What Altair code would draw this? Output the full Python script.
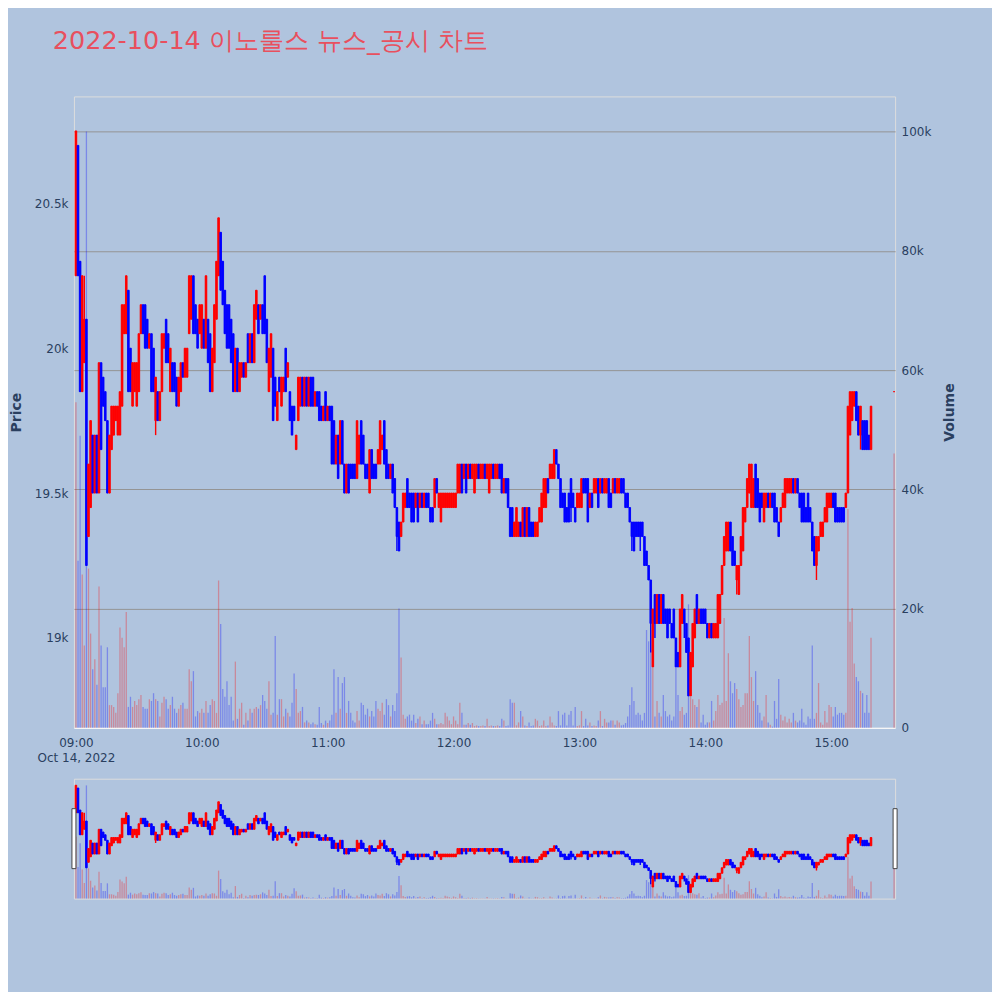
import altair as alt
import pandas as pd

# ---------------- data (1-minute candles) ----------------
session_minutes = list(range(380)) + [390]   # minutes after 09:00 (15:20-15:29 auction gap)

opens = [
    20250,20700,20300,19850,19950,20100,19350,19450,19700,19500,
    19700,19500,19950,19900,19850,19750,19500,19650,19700,19750,
    19700,19700,19800,20050,20050,20200,20000,19800,19850,19800,
    19850,20050,20150,20150,20100,20000,20050,20000,19750,19850,
    19750,19850,20000,20100,20050,19850,19950,19950,19900,19800,
    19850,19950,19900,19900,20050,20100,20250,20150,20100,20050,
    20000,20100,20000,20100,20050,19850,19950,20100,20250,20400,
    20300,20200,20150,20150,20100,20050,19850,20000,19850,19900,
    19950,19900,20050,19950,20050,19950,20100,20150,20100,20150,
    20250,20100,19850,19900,20000,19900,19750,19900,19800,19850,
    20000,19900,19850,19800,19800,19650,19750,19800,19900,19800,
    19900,19800,19900,19900,19800,19850,19850,19800,19750,19850,
    19750,19800,19800,19750,19600,19700,19600,19750,19600,19500,
    19600,19600,19600,19600,19550,19600,19750,19700,19600,19600,
    19500,19650,19600,19600,19600,19600,19650,19750,19650,19600,
    19550,19600,19550,19450,19400,19350,19400,19450,19550,19500,
    19500,19500,19450,19500,19450,19500,19450,19500,19500,19450,
    19450,19450,19550,19450,19400,19450,19450,19450,19450,19450,
    19450,19450,19500,19500,19600,19550,19600,19550,19600,19550,
    19500,19550,19600,19550,19550,19600,19550,19500,19550,19600,
    19550,19550,19600,19600,19500,19550,19550,19450,19450,19350,
    19350,19350,19400,19350,19450,19350,19450,19400,19400,19350,
    19350,19400,19400,19450,19450,19550,19550,19550,19550,19650,
    19600,19550,19500,19500,19450,19500,19550,19500,19450,19450,
    19450,19450,19550,19550,19550,19450,19500,19500,19500,19550,
    19500,19550,19500,19500,19550,19500,19500,19550,19500,19500,
    19550,19550,19500,19500,19450,19400,19400,19400,19400,19400,
    19400,19350,19300,19250,19200,18900,19150,19050,19150,19050,
    19150,19100,19100,19100,19050,19100,19000,18950,18900,19050,
    19100,19050,19000,18800,18900,19000,19150,19050,19100,19100,
    19100,19050,19000,19050,19000,19000,19000,19050,19150,19250,
    19300,19300,19400,19350,19300,19200,19150,19250,19300,19400,
    19450,19500,19450,19450,19600,19550,19500,19500,19400,19450,
    19500,19450,19500,19500,19450,19400,19400,19450,19450,19500,
    19500,19500,19550,19500,19550,19500,19500,19500,19450,19500,
    19450,19400,19350,19250,19300,19350,19350,19400,19400,19450,
    19450,19500,19500,19450,19450,19450,19450,19450,19500,19700,
    19750,19800,19850,19800,19700,19750,19750,19750,19700,19650,
    19850,
]

closes = [
    20750,20250,19850,20250,20100,19250,19600,19750,19500,19700,
    19500,19950,19650,19800,19750,19500,19700,19800,19800,19800,
    19800,19850,20150,20150,20250,19850,19850,19950,19950,19950,
    20050,20150,20050,20000,20000,20050,19850,19850,19900,19750,
    19850,20050,20050,19950,19950,20000,19850,19850,19800,19900,
    19950,19900,20000,20000,20250,20250,20050,20050,20000,20150,
    20150,20000,20250,19950,19850,20000,20150,20300,20450,20200,
    20150,20050,20000,20000,19950,19850,20000,19850,19950,19950,
    19900,19950,19950,20050,19950,20150,20200,20050,20150,20050,
    20050,19950,20000,20050,19750,19800,19850,19850,19900,19900,
    19850,19950,19750,19700,19750,19700,19900,19900,19800,19900,
    19800,19900,19800,19800,19850,19800,19750,19750,19800,19750,
    19800,19750,19600,19600,19700,19550,19750,19600,19500,19600,
    19500,19550,19550,19550,19750,19700,19600,19600,19550,19550,
    19650,19550,19550,19550,19650,19750,19700,19600,19550,19550,
    19600,19500,19450,19350,19300,19400,19500,19500,19450,19450,
    19400,19400,19500,19400,19500,19450,19500,19450,19450,19400,
    19400,19550,19500,19500,19500,19500,19500,19500,19500,19500,
    19500,19500,19600,19600,19500,19600,19500,19600,19550,19600,
    19600,19600,19550,19600,19600,19550,19600,19600,19600,19550,
    19600,19600,19550,19500,19550,19500,19450,19350,19350,19400,
    19450,19400,19350,19450,19350,19450,19350,19350,19350,19400,
    19400,19450,19500,19550,19550,19500,19600,19600,19650,19600,
    19550,19450,19450,19400,19400,19400,19450,19450,19400,19500,
    19500,19550,19500,19500,19400,19500,19450,19550,19550,19450,
    19550,19500,19550,19550,19450,19450,19550,19500,19550,19550,
    19500,19500,19450,19450,19400,19350,19300,19350,19350,19350,
    19350,19250,19250,19200,19050,19100,19050,19150,19050,19150,
    19050,19050,19000,19050,19000,19000,18900,18900,19100,19150,
    19050,18950,18800,18950,19050,19100,19050,19100,19050,19050,
    19050,19000,19050,19000,19050,19050,19150,19150,19250,19350,
    19400,19400,19300,19250,19250,19250,19250,19350,19450,19450,
    19550,19600,19600,19550,19450,19450,19400,19450,19500,19500,
    19450,19500,19450,19400,19400,19350,19450,19500,19550,19550,
    19550,19550,19500,19550,19500,19450,19400,19400,19400,19400,
    19400,19300,19250,19350,19350,19400,19400,19450,19500,19500,
    19500,19450,19400,19400,19400,19400,19400,19500,19800,19850,
    19850,19850,19750,19700,19800,19650,19650,19650,19650,19800,
    19850,
]

# wick extremes that reach beyond the candle body
wick_high = {4: 20250}
wick_low = {38: 19700, 153: 19300, 236: 19400, 265: 19300, 269: 19300,
            274: 18950, 276: 19000, 290: 19000, 315: 19150, 353: 19200, 374: 19650}

volumes = [
    54600,28000,49000,25700,13800,100000,26700,15800,9800,11500,
    7200,23700,13800,6800,6800,13500,3800,3800,3500,2500,
    5800,16800,15100,13500,19400,3500,5200,3500,4500,3800,
    4800,5500,3500,3200,3200,4800,4500,5800,4800,4500,
    1900,4200,5200,4800,3200,3800,5200,3200,2500,3200,
    3800,4200,3200,3200,9800,7800,9500,1900,2800,2500,
    3200,2500,4500,2500,3800,4800,4500,2500,24700,17400,
    6500,5200,7800,3800,5200,1200,11100,1500,3200,4200,
    500,2500,1200,3200,2500,3200,3500,3200,3800,5500,
    4500,3200,7800,2200,2500,15400,2200,4800,4800,1900,
    3200,2500,1900,4200,9100,6500,2500,2800,3500,900,
    1200,900,600,900,600,500,3500,800,500,1200,
    800,1200,2200,9800,2500,8500,3200,7500,8500,2500,
    4500,2500,1200,900,2800,1200,4200,3800,2200,3200,
    1900,2800,1900,4500,3200,2800,4200,2200,4800,3800,
    1900,3800,2800,5800,20000,11800,2200,1500,1900,2200,
    1200,2200,800,1500,1900,600,1200,600,600,1200,
    2500,1500,600,600,800,600,2500,1900,1200,600,
    1900,1200,600,4200,2500,500,500,800,500,800,
    300,400,300,300,400,300,1500,300,400,300,
    300,400,300,1500,1200,300,400,4800,4200,4200,
    400,900,2800,1900,400,300,900,300,400,1500,
    1200,300,400,1200,300,400,1900,900,400,300,
    2800,400,2200,2500,400,2200,2800,400,3500,300,
    400,2800,300,1500,400,900,300,400,300,1200,
    2800,300,1500,900,900,1200,1200,500,1200,900,
    400,500,800,1900,3800,6800,4500,2200,2500,2200,
    1200,2500,16400,14500,16400,10100,1900,4500,2500,1900,
    5500,2800,1900,2200,1200,1900,10100,5500,2800,3500,
    2200,2500,20700,5200,4800,3800,3500,4800,900,2200,
    500,900,900,4500,1200,2800,5500,3800,4200,18400,
    4500,12500,7800,5800,7500,6500,4800,3500,3800,5800,
    5800,15400,8500,4500,9500,3800,2500,1200,1900,5500,
    900,500,200,4500,1500,8200,2200,1200,1900,900,
    1500,900,2500,1200,900,1200,3200,900,500,1900,
    1500,13800,1500,2500,7500,900,500,2800,900,3800,
    3500,1900,3500,2200,2500,2500,2200,2500,36700,17800,
    20100,10800,8500,7800,6200,5800,2500,5500,2500,15100,
    46000,
]

x_tick_hours = [9, 10, 11, 12, 13, 14, 15]
price_ticks = [19000, 19500, 20000, 20500]
volume_ticks = [0, 20000, 40000, 60000, 80000, 100000]

TITLE = "2022-10-14 이노룰스 뉴스_공시 차트"

# ---------------- table ----------------
highs = [max(o, c, wick_high.get(i, o)) for i, (o, c) in enumerate(zip(opens, closes))]
lows = [min(o, c, wick_low.get(i, o)) for i, (o, c) in enumerate(zip(opens, closes))]
times = (pd.Timestamp("2022-10-14 09:00:00")
         + pd.to_timedelta(session_minutes, unit="min")).strftime("%Y-%m-%dT%H:%M:%S")
df = pd.DataFrame({
    "t": list(times), "o": opens, "h": highs, "l": lows, "c": closes, "v": volumes,
    "dir": ["up" if c >= o else "down" for o, c in zip(opens, closes)],
})

FONT = "DejaVu Sans"
TXT = "#2a3f5f"


def dt(h, m=0, s=0):
    return alt.DateTime(year=2022, month=10, date=14, hours=h, minutes=m, seconds=s)


x_scale = alt.Scale(domain=[dt(8, 59, 3), dt(15, 30, 29)], padding=0)
price_scale = alt.Scale(domain=[18690, 20869], nice=False, zero=False)
vol_scale = alt.Scale(domain=[0, 105900], nice=False)
dir_scale = alt.Scale(domain=["up", "down"], range=["#ff0000", "#0000ff"])

x_axis = alt.Axis(
    values=[dt(h) for h in x_tick_hours],
    labelExpr="hours(datum.value) == 9 ? ['09:00', 'Oct 14, 2022'] : timeFormat(datum.value, '%H:%M')",
    grid=False, ticks=False, domain=False, labelFlush=False,
    labelPadding=10, labelFontSize=12, labelColor=TXT, labelLineHeight=15,
)
price_axis = alt.Axis(
    orient="left", values=price_ticks,
    labelExpr="format(datum.value / 1000, '') + 'k'",
    gridColor="#ffffff", gridWidth=1, ticks=False, domain=False,
    labelPadding=6, labelFontSize=12, labelColor=TXT,
    title="Price", titleFontSize=14, titleFontWeight="bold", titleColor=TXT, titlePadding=11,
)
vol_axis = alt.Axis(
    orient="right", values=volume_ticks,
    labelExpr="datum.value == 0 ? '0' : format(datum.value / 1000, '') + 'k'",
    gridColor={"condition": {"test": "datum.value === 0", "value": "#ffffff"}, "value": "#949494"},
    gridWidth=1, ticks=False, domain=False,
    labelPadding=6, labelFontSize=12, labelColor=TXT,
    title="Volume", titleFontSize=14, titleFontWeight="bold", titleColor=TXT,
    titleAngle=-90, titleBaseline="top", titlePadding=12,
)


def panel(show_axes, height):
    xa = x_axis if show_axes else None
    pa = price_axis if show_axes else None
    va = vol_axis if show_axes else None
    X = alt.X("t:T", scale=x_scale, axis=xa, title=None)
    col = alt.Color("dir:N", scale=dir_scale, legend=None)
    vol = alt.Chart(df).mark_bar(size=1.3, opacity=0.3).encode(
        x=X, y=alt.Y("v:Q", scale=vol_scale, axis=va), color=col)
    wick = alt.Chart(df).mark_rule(strokeWidth=1.4).encode(
        x=X, y=alt.Y("l:Q", scale=price_scale, axis=pa), y2="h:Q", color=col)
    body = alt.Chart(df).mark_bar(size=1.6, strokeWidth=0.9).encode(
        x=X, y=alt.Y("o:Q", scale=price_scale, axis=pa), y2="c:Q", color=col,
        stroke=alt.Stroke("dir:N", scale=dir_scale, legend=None))
    ch = alt.layer(vol, alt.layer(wick, body)).resolve_scale(y="independent")
    return ch.properties(width=822, height=height)


main = panel(True, 632)

handle_df = pd.DataFrame({"k": [0]})
hl = alt.Chart(handle_df).mark_rect(fill="#ffffff", stroke="#444444", strokeWidth=1).encode(
    x=alt.value(-2), x2=alt.value(2), y=alt.value(30), y2=alt.value(90))
hr = alt.Chart(handle_df).mark_rect(fill="#ffffff", stroke="#444444", strokeWidth=1).encode(
    x=alt.value(820), x2=alt.value(824), y=alt.value(30), y2=alt.value(90))
slider = alt.layer(panel(False, 120), hl, hr).properties(width=822, height=120)

chart = alt.vconcat(main, slider, spacing=13).resolve_scale(
    x="independent", y="independent"
).properties(
    title=alt.TitleParams(TITLE, anchor="start", fontSize=25.5, fontWeight="normal",
                          color="#e8505e", font=FONT, dx=44, offset=41),
    padding={"left": 0, "top": 21, "right": 34, "bottom": 92},
    background="#b0c4de",
).configure_view(fill="#e5ecf6", strokeWidth=0).configure(font=FONT)

chart.save("out.html", embed_options={"renderer": "svg", "actions": False})
